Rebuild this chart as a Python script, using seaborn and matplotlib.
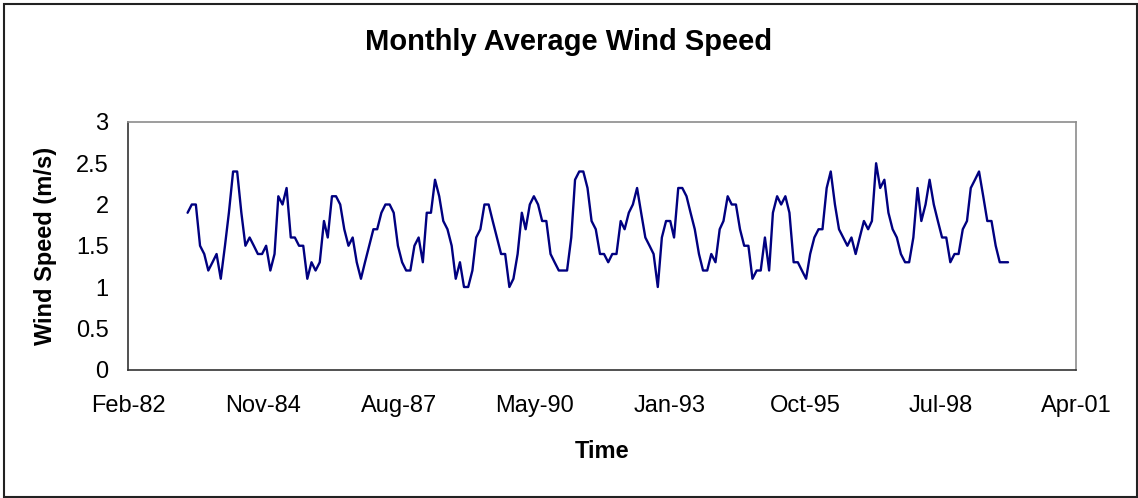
import pandas as pd
import matplotlib.pyplot as plt
import matplotlib.dates as mdates
import seaborn as sns
from matplotlib.patches import Rectangle

# monthly averages, May 1983 - Dec 1999
first_month = "1983-05-01"
wind_speed = [
    1.9, 2.0, 2.0, 1.5, 1.4, 1.2, 1.3, 1.4, 1.1, 1.5, 1.9, 2.4, 2.4, 1.9, 1.5, 1.6, 1.5, 1.4, 1.4, 1.5,
    1.2, 1.4, 2.1, 2.0, 2.2, 1.6, 1.6, 1.5, 1.5, 1.1, 1.3, 1.2, 1.3, 1.8, 1.6, 2.1, 2.1, 2.0, 1.7, 1.5,
    1.6, 1.3, 1.1, 1.3, 1.5, 1.7, 1.7, 1.9, 2.0, 2.0, 1.9, 1.5, 1.3, 1.2, 1.2, 1.5, 1.6, 1.3, 1.9, 1.9,
    2.3, 2.1, 1.8, 1.7, 1.5, 1.1, 1.3, 1.0, 1.0, 1.2, 1.6, 1.7, 2.0, 2.0, 1.8, 1.6, 1.4, 1.4, 1.0, 1.1,
    1.4, 1.9, 1.7, 2.0, 2.1, 2.0, 1.8, 1.8, 1.4, 1.3, 1.2, 1.2, 1.2, 1.6, 2.3, 2.4, 2.4, 2.2, 1.8, 1.7,
    1.4, 1.4, 1.3, 1.4, 1.4, 1.8, 1.7, 1.9, 2.0, 2.2, 1.9, 1.6, 1.5, 1.4, 1.0, 1.6, 1.8, 1.8, 1.6, 2.2,
    2.2, 2.1, 1.9, 1.7, 1.4, 1.2, 1.2, 1.4, 1.3, 1.7, 1.8, 2.1, 2.0, 2.0, 1.7, 1.5, 1.5, 1.1, 1.2, 1.2,
    1.6, 1.2, 1.9, 2.1, 2.0, 2.1, 1.9, 1.3, 1.3, 1.2, 1.1, 1.4, 1.6, 1.7, 1.7, 2.2, 2.4, 2.0, 1.7, 1.6,
    1.5, 1.6, 1.4, 1.6, 1.8, 1.7, 1.8, 2.5, 2.2, 2.3, 1.9, 1.7, 1.6, 1.4, 1.3, 1.3, 1.6, 2.2, 1.8, 2.0,
    2.3, 2.0, 1.8, 1.6, 1.6, 1.3, 1.4, 1.4, 1.7, 1.8, 2.2, 2.3, 2.4, 2.1, 1.8, 1.8, 1.5, 1.3, 1.3, 1.3,
]

# excel style date axis: 1000 day steps
axis_start = "1982-02-15"
axis_step_days = 1000
n_ticks = 8
y_ticks = [0, 0.5, 1, 1.5, 2, 2.5, 3]

df = pd.DataFrame({
    "month": pd.date_range(first_month, periods=len(wind_speed), freq="MS"),
    "speed": wind_speed,
})
x_ticks = pd.date_range(axis_start, periods=n_ticks, freq=f"{axis_step_days}D")

sns.set_theme(style="white")
plt.rcParams["font.family"] = ["Liberation Sans", "DejaVu Sans"]
plt.rcParams["text.color"] = "black"
plt.rcParams["axes.labelcolor"] = "black"

fig = plt.figure(figsize=(11.38, 4.98), dpi=100)
ax = fig.add_axes([128 / 1138, 1 - 369.5 / 498, (1076 - 128) / 1138, (369.5 - 122) / 498])

sns.lineplot(data=df, x="month", y="speed", color="#000080", linewidth=1.7, ax=ax)

ax.set_xlim(x_ticks[0], x_ticks[-1])
ax.set_ylim(0, 3)
ax.set_xticks(x_ticks)
ax.xaxis.set_major_formatter(mdates.DateFormatter("%b-%y"))
ax.set_yticks(y_ticks)
ax.set_yticklabels([f"{v:g}" for v in y_ticks])

for side in ["left", "bottom"]:
    ax.spines[side].set_color("#333333")
    ax.spines[side].set_linewidth(1.2)
for side in ["top", "right"]:
    ax.spines[side].set_color("#8c8c8c")
    ax.spines[side].set_linewidth(1.2)

ax.tick_params(axis="both", direction="out", length=6, width=1.2, color="#333333",
               labelsize=17, labelcolor="black")
ax.tick_params(axis="y", pad=8)
ax.tick_params(axis="x", pad=12)

ax.set_xlabel("Time", fontsize=17, fontweight="bold", color="black")
ax.set_ylabel("Wind Speed (m/s)", fontsize=17, fontweight="bold", color="black")
ax.xaxis.set_label_coords(0.5, -0.285)
ax.yaxis.set_label_coords(-0.075, 0.5)

fig.text(569 / 1138, 1 - 42 / 498, "Monthly Average Wind Speed", ha="center", va="center",
         fontsize=21, fontweight="bold", color="black")

fig.patches.append(Rectangle((4 / 1138, 1 - 497 / 498), 1133 / 1138, 493 / 498,
                             transform=fig.transFigure, fill=False, edgecolor="#222222", linewidth=1.5))

fig.savefig("out.png", dpi=100)
